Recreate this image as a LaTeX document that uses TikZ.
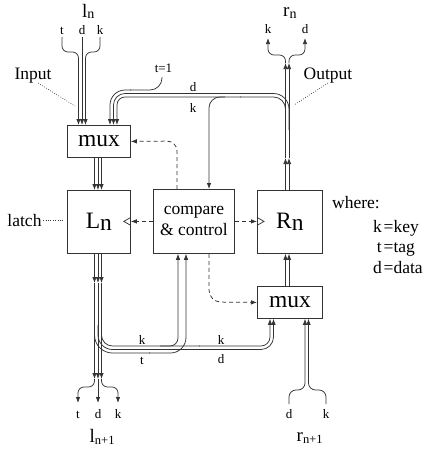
\documentclass[tikz,border=0pt]{standalone}
\usepackage{fontspec}
\setmainfont{Liberation Serif}
\usetikzlibrary{arrows.meta,calc}
\tikzset{
  wire/.style={line width=0.75pt, draw=black!80},
  arr/.style={wire, -{Latex[length=6pt,width=4.5pt]}},
  dsh/.style={wire, dash pattern=on 4pt off 3pt, -{Latex[length=6pt,width=4.5pt]}},
  dots/.style={line width=0.6pt, draw=black!80, dash pattern=on 0.8pt off 1.6pt},
  blk/.style={draw=black!80, line width=0.8pt, fill=white, inner sep=0pt, anchor=north west},
  big/.style={font=\fontsize{23.5}{26}\selectfont},
  mid/.style={font=\fontsize{17.5}{21}\selectfont},
  sml/.style={font=\fontsize{13}{14}\selectfont, inner sep=0pt, anchor=base},
  lbl/.style={inner sep=0pt, anchor=base},
}
\begin{document}
\begin{tikzpicture}[x=1pt,y=-1pt]
\useasboundingbox (0,0) rectangle (430,450);

% boxes
\node[blk, big, minimum width=63pt, minimum height=32pt] (mux1) at (67,125) {mux};
\node[blk, big, minimum width=63pt, minimum height=63pt] (Ln) at (67,190) {L\raisebox{-2pt}{n}};
\node[blk, mid, minimum width=81pt, minimum height=64pt, align=center] (cc) at (153,189) {compare\\\& control};
\node[blk, big, minimum width=65pt, minimum height=63pt] (Rn) at (257,190) {R\raisebox{-2pt}{n}};
\node[blk, big, minimum width=65pt, minimum height=32pt] (mux2) at (257,286) {mux};

% free ends
\coordinate (inT) at (62,37);
\coordinate (inD) at (82,37);
\coordinate (inK) at (100,37);
\coordinate (t1) at (162,77);
\coordinate (outK) at (268,38);
\coordinate (outD) at (305,38);
\coordinate (botT) at (78,403);
\coordinate (botD) at (98,403);
\coordinate (botK) at (118,403);
\coordinate (rD) at (289,404);
\coordinate (rK) at (326,404);

% labels
\node[lbl, font=\fontsize{19}{20}\selectfont, anchor=base west] (ln) at (82,17) {l\raisebox{-1.5pt}{\fontsize{14}{14}\selectfont n}};
\node[lbl, font=\fontsize{19}{20}\selectfont, anchor=base west] (rn) at (283,16) {r\raisebox{-2pt}{\fontsize{14}{14}\selectfont n}};
\node[lbl, font=\fontsize{19}{20}\selectfont, anchor=base west] (lnn) at (89.5,442) {l\raisebox{-2pt}{\fontsize{12.5}{13}\selectfont n+1}};
\node[lbl, font=\fontsize{19}{20}\selectfont, anchor=base west] (rnn) at (296.5,441) {r\raisebox{-2pt}{\fontsize{12.5}{13}\selectfont n+1}};

\node[sml] (lt) at (62,34) {t};
\node[sml] (ld) at (82,34) {d};
\node[sml] (lk) at (100,34) {k};
\node[sml] (ok) at (268,33) {k};
\node[sml] (od) at (305,33) {d};
\node[sml] (t1l) at (163.5,72) {t=1};
\node[sml] (fd) at (193,91) {d};
\node[sml] (fk) at (193,112) {k};
\node[sml] (bk1) at (142,344) {k};
\node[sml] (bt1) at (142,364) {t};
\node[sml] (bk2) at (221,344) {k};
\node[sml] (bd2) at (221,363) {d};
\node[sml] (btt) at (78,418) {t};
\node[sml] (btd) at (98,418) {d};
\node[sml] (btk) at (118,418) {k};
\node[sml] (rdl) at (289,418) {d};
\node[sml] (rkl) at (326,418) {k};

\node[lbl, mid] (inputlbl) at (33,79) {Input};
\node[lbl, mid] (outputlbl) at (328,79) {Output};
\node[lbl, mid] (latchlbl) at (24.5,226) {latch};
\node[lbl, mid] (where) at (356,208) {where:};
\node[mid, inner sep=0pt, anchor=base east] (wk) at (382,232) {k};
\node[mid, inner sep=0pt, anchor=base west] (wkv) at (383.5,232) {=key};
\node[mid, inner sep=0pt, anchor=base east] (wt) at (382,252.5) {t};
\node[mid, inner sep=0pt, anchor=base west] (wtv) at (383.5,252.5) {=tag};
\node[mid, inner sep=0pt, anchor=base east] (wd) at (382,273) {d};
\node[mid, inner sep=0pt, anchor=base west] (wdv) at (383.5,273) {=data};

% leaders
\coordinate (inpE) at (75,106);
\coordinate (outE) at (294,105);
\draw[dots] (38,83) -- (inpE);
\draw[dots] (328,83) -- (outE);
\draw[dots, shorten <=1.5pt, shorten >=4pt] (latchlbl.east) -- (latchlbl.east -| Ln.west);

% input l_n
\draw[arr, rounded corners=6pt] (inT) -- (62,52) -- (78.5,52) -- ([xshift=11.5pt]mux1.north west);
\draw[arr] (inD) -- ([xshift=15pt]mux1.north west);
\draw[arr, rounded corners=6pt] (inK) -- (100,52) -- (85.5,52) -- ([xshift=18.5pt]mux1.north west);

% mux1 -> Ln
\foreach \dx in {27.5,31,34.5}
  \draw[arr] ([xshift=\dx pt]mux1.south west) -- ([xshift=\dx pt]Ln.north west);

% t=1 feedback
\draw[wire, rounded corners=12pt] (t1) -- (162,90) -- (130,90);
\draw[arr, rounded corners=15pt] (131,90) -- (110,90) -- ([xshift=43pt]mux1.north west);
% d feedback
\draw[wire, rounded corners=15.5pt] (289,130) -- (289,93.5) -- (200,93.5);
\draw[arr, rounded corners=11.5pt] (201,93.5) -- (113.5,93.5) -- ([xshift=46.5pt]mux1.north west);
% k feedback
\draw[wire, rounded corners=12pt] (285.5,130) -- (285.5,97) -- (240,97);
\draw[arr, rounded corners=8pt] (241,97) -- (117,97) -- ([xshift=50pt]mux1.north west);
\draw[arr, rounded corners=11pt] (225,97) -- (209,97) -- ([xshift=56pt]cc.north west);

% Rn output
\foreach \x/\dx in {285.5/28.5, 289/32} {
  \draw[arr] ([xshift=\dx pt]Rn.north west) -- (\x,158);
  \draw[arr] (\x,158) -- (\x,63);
}
\draw[arr, rounded corners=6pt] (285.5,63) -- (285.5,55) -- (268,55) -- (outK);
\draw[arr, rounded corners=6pt] (289,63) -- (289,55) -- (305,55) -- (outD);

% Ln output
\foreach \x/\dx in {94.5/27.5, 98/31, 101.5/34.5} {
  \draw[arr] ([xshift=\dx pt]Ln.south west) -- (\x,283);
  \draw[arr] (\x,283) -- (\x,379);
}
\draw[arr, rounded corners=6pt] (94.5,379) -- (94.5,387) -- (78,387) -- (botT);
\draw[arr] (98,379) -- (botD);
\draw[arr, rounded corners=6pt] (101.5,379) -- (101.5,387) -- (118,387) -- (botK);

% bottom bus
\draw[wire, rounded corners=18pt] (94.5,325) -- (94.5,353) -- (150,353);
\draw[arr, rounded corners=15.5pt] (149,353) -- (186,353) -- ([xshift=33pt]cc.south west);
\draw[wire, rounded corners=14.5pt] (98,325) -- (98,349.5) -- (200,349.5);
\draw[arr, rounded corners=12.5pt] (199,349.5) -- (273.5,349.5) -- ([xshift=16.5pt]mux2.south west);
\draw[wire, rounded corners=11pt] (101.5,325) -- (101.5,346) -- (200,346);
\draw[arr, rounded corners=9pt] (199,346) -- (270,346) -- ([xshift=13pt]mux2.south west);
\draw[arr, rounded corners=8pt] (160,346) -- (178,346) -- ([xshift=25pt]cc.south west);

% r_{n+1} inputs
\draw[arr, rounded corners=7pt] (rD) -- (289,390) -- (305,390) -- ([xshift=48pt]mux2.south west);
\draw[arr, rounded corners=7pt] (rK) -- (326,390) -- (308.5,390) -- ([xshift=51.5pt]mux2.south west);

% mux2 -> Rn
\foreach \dx in {28.5,32}
  \draw[arr] ([xshift=\dx pt]mux2.north west) -- ([xshift=\dx pt]Rn.south west);

% control (dashed)
\draw[dsh, rounded corners=10pt] ([xshift=24pt]cc.north west) -- (177,141) -- (mux1.east);
\draw[dsh, rounded corners=12pt] ([xshift=56pt]cc.south west) -- (209,302) -- (mux2.west);
\draw[dsh] (cc.west) -- (cc.west -| Ln.east);
\draw[dsh] (cc.east) -- (cc.east -| Rn.west);

% clock marks
\draw[wire] ($(cc.west -| Ln.east)+(0,4)$) -- ($(cc.west -| Ln.east)+(-7,0)$) -- ($(cc.west -| Ln.east)+(0,-4)$);
\draw[wire] ($(cc.east -| Rn.west)+(0,4)$) -- ($(cc.east -| Rn.west)+(7,0)$) -- ($(cc.east -| Rn.west)+(0,-4)$);
\end{tikzpicture}
\end{document}
